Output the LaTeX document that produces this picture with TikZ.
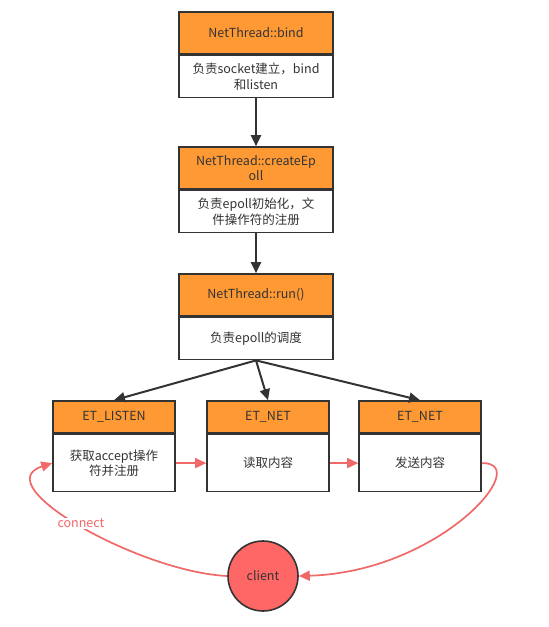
\documentclass[tikz,border=0pt]{standalone}
\usepackage{fontspec}
\setmainfont{Noto Sans CJK SC}
\usepackage{tikz}
\usetikzlibrary{arrows.meta, positioning}

\definecolor{headorange}{HTML}{FF9933}
\definecolor{clientred}{HTML}{FF6666}
\definecolor{linkred}{HTML}{F06868}
\definecolor{ink}{HTML}{333333}

\tikzset{
    head/.style={draw=ink, line width=1.6pt, fill=headorange, text=ink,
        minimum width=154pt, minimum height=42pt, align=center,
        font=\fontsize{12.5}{15.5}\selectfont},
    body/.style={head, fill=white},
    smallhead/.style={head, minimum width=122pt, minimum height=32pt},
    smallbody/.style={body, minimum width=122pt, minimum height=57pt},
    flow/.style={draw=ink, line width=2pt, -{Triangle[length=11pt,width=10pt]}},
    redflow/.style={draw=linkred, line width=1.7pt, -{Triangle[length=11pt,width=10pt]}}
}

\begin{document}
\begin{tikzpicture}[x=1pt, y=-1pt]
    \useasboundingbox (0,0) rectangle (549,627);

    % upper column
    \node[head] (bindHead) at (256,33) {NetThread::bind};
    \node[body, below=0pt of bindHead] (bindBody) {负责socket建立，bind\\和listen};
    \node[head] (epollHead) at (256,168) {NetThread::createEp\\oll};
    \node[body, below=0pt of epollHead] (epollBody) {负责epoll初始化，文\\件操作符的注册};
    \node[head] (runHead) at (256,295) {NetThread::run()};
    \node[body, below=0pt of runHead] (runBody) {负责epoll的调度};

    \draw[flow] (bindBody) -- (epollHead);
    \draw[flow] (epollBody) -- (runHead);

    % lower row
    \node[smallhead] (listenHead) at (114,417) {ET\_LISTEN};
    \node[smallbody, below=0pt of listenHead] (listenBody) {获取accept操作\\符并注册};
    \node[smallhead] (readHead) at (268,417) {ET\_NET};
    \node[smallbody, below=0pt of readHead] (readBody) {读取内容};
    \node[smallhead] (sendHead) at (420,417) {ET\_NET};
    \node[smallbody, below=0pt of sendHead] (sendBody) {发送内容};

    \draw[flow] (runBody.south) -- (listenHead.north);
    \draw[flow] (runBody.south) -- (readHead.north);
    \draw[flow] (runBody.south) -- (sendHead.north);

    \draw[redflow] (listenBody) -- (readBody);
    \draw[redflow] (readBody) -- (sendBody);

    % client
    \node[circle, draw=ink, line width=1.6pt, fill=clientred, text=ink,
        minimum size=70pt, font=\fontsize{12.5}{15.5}\selectfont] (client) at (263,576) {client};

    \draw[redflow] (client.west) .. controls (140,572) and (-15,485) .. (listenBody.west)
        node[pos=0.52, fill=white, text=linkred, inner sep=1pt, xshift=4pt,
            font=\fontsize{12.5}{15.5}\selectfont] {connect};
    \draw[redflow] (sendBody.east) .. controls (535,462) and (440,572) .. (client.east);
\end{tikzpicture}
\end{document}
